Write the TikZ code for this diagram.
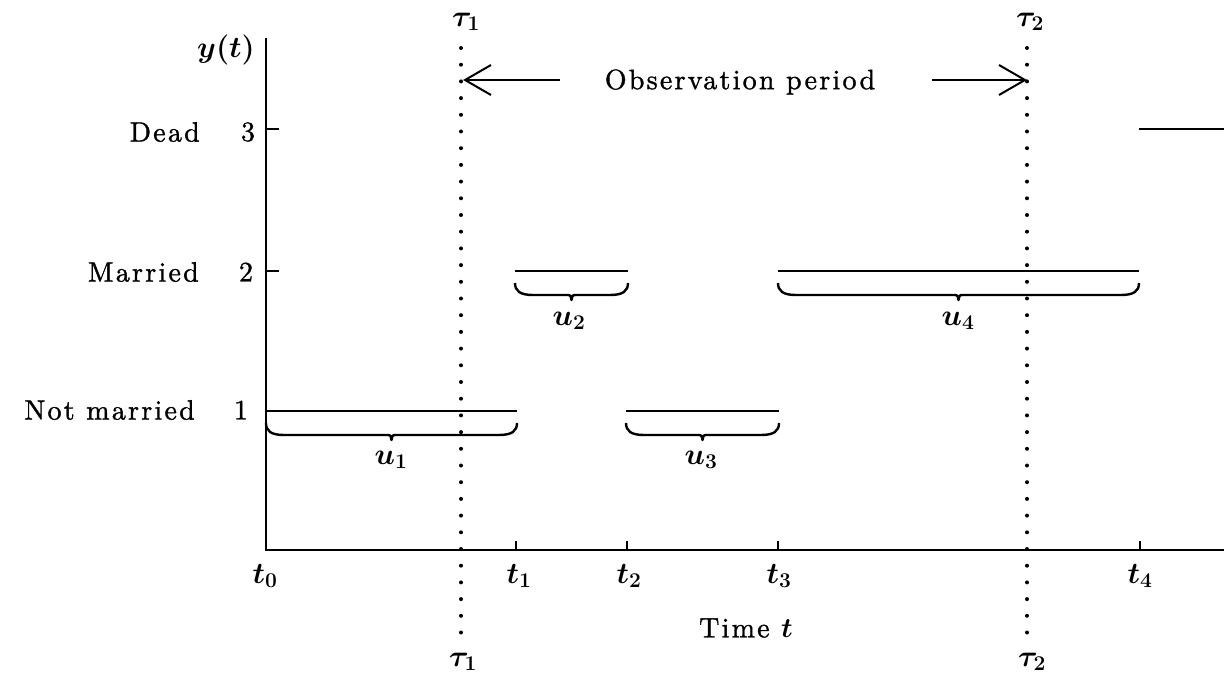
\RequirePackage{fix-cm}
\documentclass[tikz,border=0pt]{standalone}
\usepackage{fontspec}
\newfontfamily\lsfont{lmroman10-regular.otf}[LetterSpace=8, FakeBold=1.2]
\usetikzlibrary{arrows.meta}
\tikzset{
  lab/.style={font=\boldmath\fontsize{28}{32}\lsfont, inner sep=0pt},
  mlab/.style={font=\fontsize{30}{34}\selectfont\boldmath, inner sep=0pt},
  tlab/.style={font=\fontsize{30}{34}\selectfont\boldmath, inner sep=0pt},
  axisline/.style={line width=2.6pt},
  seg/.style={line width=2.6pt},
  tickline/.style={line width=1.8pt},
  brc/.style={line width=2.4pt, line join=round},
  dotline/.style={line width=4pt, line cap=round, dash pattern=on 0pt off 16.7pt},
  obsarrow/.style={line width=2pt, -{Straight Barb[length=26pt,width=30pt,line width=2pt]}}
}
\newcommand{\UBrace}[3]{% x0, x1, y (line level)
  \pgfmathsetmacro{\bm}{(#1+#2)/2}
  \draw[brc] (#1,#3+12) .. controls (#1,#3+20) and (#1+5,#3+24) .. (#1+18,#3+24)
    -- (\bm-5,#3+24) .. controls (\bm-1,#3+24) .. (\bm,#3+29)
    .. controls (\bm+1,#3+24) .. (\bm+5,#3+24)
    -- (#2-18,#3+24) .. controls (#2-5,#3+24) and (#2,#3+20) .. (#2,#3+12);
}
\begin{document}
\begin{tikzpicture}[x=1pt,y=-1pt]
\useasboundingbox (0,0) rectangle (1224,674);

% axes
\coordinate (O) at (266,550);
\coordinate (ytop) at (266,38);
\coordinate (xend) at (1224,550);
\draw[axisline] (ytop) -- (O) -- (xend);

% y ticks
\coordinate (y3) at (266,129);
\coordinate (y2) at (266,271);
\draw[tickline] (y3) -- ++(13,0);
\draw[tickline] (y2) -- ++(13,0);

% x ticks
\foreach \n/\x in {x1/516, x2/627, x3/778, x4/1140}{
  \coordinate (\n) at (\x,550);
  \draw[tickline] (\n) -- ++(0,-9);
}

% y labels
\node[mlab] (yt) at (226,50) {$y(t)$};
\node[lab, anchor=east] (dead) at (200,132) {Dead};
\node[lab] (n3) at (248,132) {3};
\node[lab, anchor=east] (married) at (199,272) {Married};
\node[lab] (n2) at (246,272) {2};
\node[lab, anchor=east] (notmarried) at (195,410) {Not married};
\node[lab] (n1) at (241,410) {1};

% x labels
\node[mlab] (t0) at (265,576) {$t_0$};
\node[mlab] (t1) at (519,576) {$t_1$};
\node[mlab] (t2) at (629,576) {$t_2$};
\node[mlab] (t3) at (779,576) {$t_3$};
\node[mlab] (t4) at (1140,576) {$t_4$};
\node[lab] (time) at (746,628) {Time $t$};

% state segments
\coordinate (s1a) at (266,411); \coordinate (s1b) at (517,411);
\coordinate (s2a) at (515,271); \coordinate (s2b) at (628,271);
\coordinate (s3a) at (626,411); \coordinate (s3b) at (779,411);
\coordinate (s4a) at (778,271); \coordinate (s4b) at (1139,271);
\coordinate (s5a) at (1139,129); \coordinate (s5b) at (1224,129);
\draw[seg] (s1a) -- (s1b);
\draw[seg] (s2a) -- (s2b);
\draw[seg] (s3a) -- (s3b);
\draw[seg] (s4a) -- (s4b);
\draw[seg] (s5a) -- (s5b);

% braces
\UBrace{266}{517}{411}
\UBrace{515}{628}{271}
\UBrace{626}{779}{411}
\UBrace{778}{1139}{271}
\node[mlab] (u1) at (391,460) {$u_1$};
\node[mlab] (u2) at (569,321) {$u_2$};
\node[mlab] (u3) at (701,460) {$u_3$};
\node[mlab] (u4) at (958,321) {$u_4$};

% observation window
\coordinate (tau1top) at (461,48);
\coordinate (tau1bot) at (461,640);
\coordinate (tau2top) at (1027,48);
\coordinate (tau2bot) at (1027,640);
\draw[dotline] (tau1top) -- (tau1bot);
\draw[dotline] (tau2top) -- (tau2bot);
\node[tlab] (tau1a) at (466,22) {$\tau_1$};
\node[tlab] (tau2a) at (1030,22) {$\tau_2$};
\node[tlab] (tau1b) at (463,662) {$\tau_1$};
\node[tlab] (tau2b) at (1032,662) {$\tau_2$};

\node[lab] (obs) at (740,82) {Observation period};
\coordinate (aL) at (560,80);
\coordinate (tipL) at (463,80);
\coordinate (aR) at (932,80);
\coordinate (tipR) at (1027,80);
\draw[obsarrow] (aL) -- (tipL);
\draw[obsarrow] (aR) -- (tipR);
\end{tikzpicture}
\end{document}
